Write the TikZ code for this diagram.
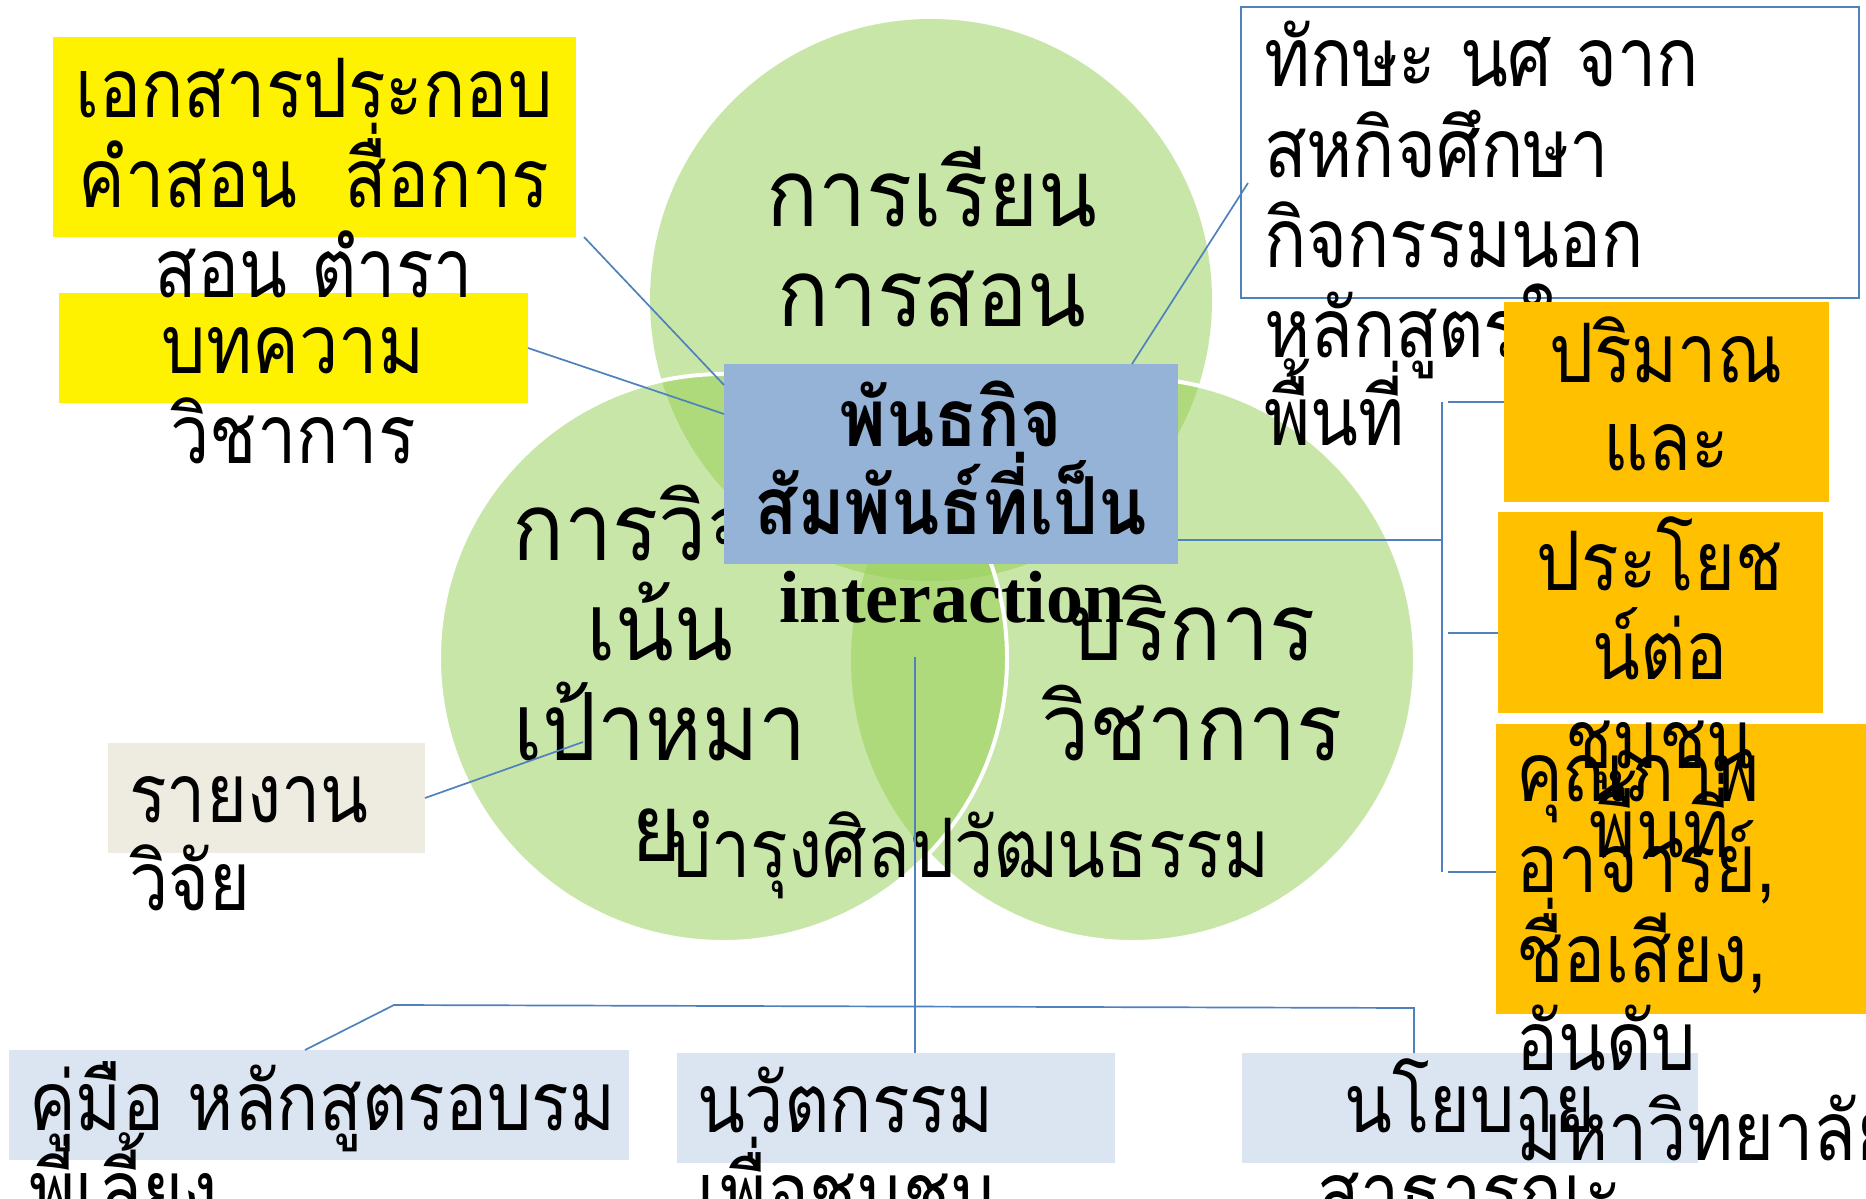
\documentclass[tikz,border=0pt]{standalone}
\usepackage{fontspec}
\newfontfamily\thai[Script=Thai, FakeStretch=0.855]{Loma}
\newfontfamily\thaic[Script=Thai, FakeStretch=0.915]{Loma}
\newfontfamily\thaib[Script=Thai, FakeStretch=0.885]{Loma}
\newfontfamily\tnr{Liberation Serif}
\definecolor{lg}{HTML}{C9E6A9}
\definecolor{mg}{HTML}{AEDA7C}
\definecolor{dg}{HTML}{A2D46A}
\definecolor{cbblue}{HTML}{95B3D7}
\definecolor{lnblue}{HTML}{4F81BD}
\definecolor{orng}{HTML}{FFC000}
\definecolor{beige}{HTML}{EEECE1}
\definecolor{pblue}{HTML}{DBE5F1}
\tikzset{
  bx/.style={draw=none, inner sep=0pt, outer sep=0pt, anchor=north west},
  tl/.style={inner sep=0pt, outer sep=0pt, anchor=base, font=\thai\fontsize{82}{90}\selectfont},
  tlw/.style={tl, anchor=base west},
  cl/.style={tl, font=\thaic\fontsize{94}{100}\selectfont},
  bl/.style={tl, font=\thaib\bfseries\fontsize{80}{88}\selectfont},
  conn/.style={draw=lnblue, line width=1.7pt},
}
\begin{document}
\begin{tikzpicture}[x=1pt,y=-1pt]
\useasboundingbox (0,0) rectangle (1866,1199);
\clip (0,0) rectangle (1866,1199);
\fill[white] (0,0) rectangle (1866,1199);
% Venn
\coordinate (T) at (931,300);
\coordinate (L) at (723,658);
\coordinate (R) at (1133,660);
\fill[lg] (T) circle[radius=281pt];
\fill[lg] (R) circle[radius=282pt];
\begin{scope}
  \clip (T) circle[radius=281pt];
  \fill[mg] (R) circle[radius=282pt];
\end{scope}
\draw[white, line width=4pt] (R) circle[radius=282pt];
\fill[lg] (L) circle[radius=284pt];
\begin{scope}
  \clip (L) circle[radius=284pt];
  \fill[mg] (T) circle[radius=281pt];
  \fill[mg] (R) circle[radius=282pt];
  \clip (T) circle[radius=281pt];
  \fill[dg] (R) circle[radius=282pt];
\end{scope}
\draw[white, line width=4pt] (L) circle[radius=284pt];
% circle texts
\node[cl] (t1) at (932,226) {การเรียน};
\node[cl] (t2) at (932,326) {การสอน};
\node[cl] (l1) at (660,560) {การวิจัย};
\node[cl] (l2) at (660,660) {เน้น};
\node[cl] (l3) at (660,760) {เป้าหมา};
\node[cl] (l4) at (657,861) {ย};
\node[cl] (r1) at (1192,660) {บริการ};
\node[cl] (r2) at (1192,760) {วิชาการ};
\node[tlw] (bt) at (667,877) {บำรุงศิลปวัฒนธรรม};
% connectors
\coordinate (vtop) at (915,657);
\coordinate (lcpt) at (583,742);
\coordinate (wbc) at (1248,183);
\coordinate (bkl) at (394,1005);
\coordinate (bkr) at (1414,1008);
\coordinate (rbk1) at (1442,402);
\coordinate (rbk2) at (1442,872);
% boxes
\node[bx, fill=yellow, minimum width=523pt, minimum height=200pt] (y1) at (53,37) {};
\node[bx, fill=yellow, minimum width=469pt, minimum height=110pt] (y2) at (59,293) {};
\node[bx, fill=cbblue, minimum width=454pt, minimum height=200pt] (cb) at (724,364) {};
\node[bx, fill=beige, minimum width=317pt, minimum height=110pt] (rb) at (108,743) {};
\node[bx, fill=white, draw=lnblue, line width=1.5pt, minimum width=618pt, minimum height=291pt] (wb) at (1241,7) {};
\node[bx, fill=pblue, minimum width=620pt, minimum height=110pt] (ba) at (9,1050) {};
\node[bx, fill=pblue, minimum width=438pt, minimum height=110pt] (bb) at (677,1053) {};
\node[bx, fill=pblue, minimum width=456pt, minimum height=110pt] (bc) at (1242,1053) {};
\draw[conn] ([xshift=8pt]y1.south east) -- ([yshift=-21pt]cb.north west);
\draw[conn] (y2.east) -- ([yshift=-50pt]cb.north west);
\draw[conn] (wbc) -- ([xshift=181pt]cb.north);
\draw[conn] (rb.east) -- (lcpt);
\draw[conn] (cb.east |- 0,540) -- (1442,540);
\draw[conn] (rbk1) -- (rbk2);
\draw[conn] (vtop) -- (bb.north -| vtop);
\draw[conn] ([xshift=-14pt]ba.north) -- (bkl) -- (bkr) -- (bkr |- bc.north);
% box texts
\node[tl] (y1a) at (314,117) {เอกสารประกอบ};
\node[tl] (y1b) at (314,207) {คำสอน\ \ สื่อการ};
\node[tl] (y1c) at (314,297) {สอน ตำรา};
\node[tl] (y2a) at (293,373) {บทความ};
\node[tl] (y2b) at (293,463) {วิชาการ};
\node[bl] (cba) at (951,446) {พันธกิจ};
\node[bl] (cbb) at (951,534) {สัมพันธ์ที่เป็น};
\node[inner sep=0pt, anchor=base, font=\tnr\bfseries\fontsize{74}{88}\selectfont] (cbc) at (952,622) {interaction};
\node[tlw] (rba) at (129,822) {รายงาน};
\node[tlw] (rbb) at (129,910) {วิจัย};
\node[tlw] (wba) at (1264,87) {ทักษะ นศ จาก};
\node[tlw] (wbb) at (1264,177) {สหกิจศึกษา};
\node[tlw] (wbc2) at (1264,267) {กิจกรรมนอก};
\node[tlw] (wbd) at (1264,357) {หลักสูตรใน};
\node[tlw] (wbe) at (1264,445) {พื้นที่};
\node[tlw] (baa) at (29,1130) {คู่มือ หลักสูตรอบรม};
\node[tlw] (bab) at (29,1219) {พี่เลี้ยง};
\node[tlw] (bba) at (697,1132) {นวัตกรรม};
\node[tlw] (bbb) at (697,1221) {เพื่อชุมชน};
\node[tl] (bca) at (1470,1132) {นโยบาย};
\node[tl] (bcb) at (1470,1221) {สาธารณะ};
% orange boxes
\node[bx, fill=orng, minimum width=325pt, minimum height=200pt] (oa) at (1504,302) {};
\node[tl] (oaa) at (1666,382) {ปริมาณ};
\node[tl] (oab) at (1666,470) {และ};
\node[bx, fill=orng, minimum width=375pt, minimum height=290pt] (oc) at (1496,724) {};
\node[tlw] (oca) at (1516,801) {คุณภาพ};
\node[tlw] (ocb) at (1516,892) {อาจารย์,};
\node[tlw] (occ) at (1516,982) {ชื่อเสียง,};
\node[tlw] (ocd) at (1516,1070) {อันดับ};
\node[tlw] (oce) at (1516,1160) {มหาวิทยาลัย};
\node[bx, fill=orng, minimum width=325pt, minimum height=201pt] (ob) at (1498,512) {};
\node[tl] (oba) at (1660,590) {ประโยช};
\node[tl] (obb) at (1660,679) {น์ต่อ};
\node[tl] (obc) at (1660,768) {ชุมชน};
\node[tl] (obd) at (1660,857) {พื้นที่};
\draw[conn] (1448,402) -- (oa.west);
\draw[conn] (1448,633) -- (1448,633 -| ob.west);
\draw[conn] (1448,872) -- (1448,872 -| oc.west);
\end{tikzpicture}
\end{document}
